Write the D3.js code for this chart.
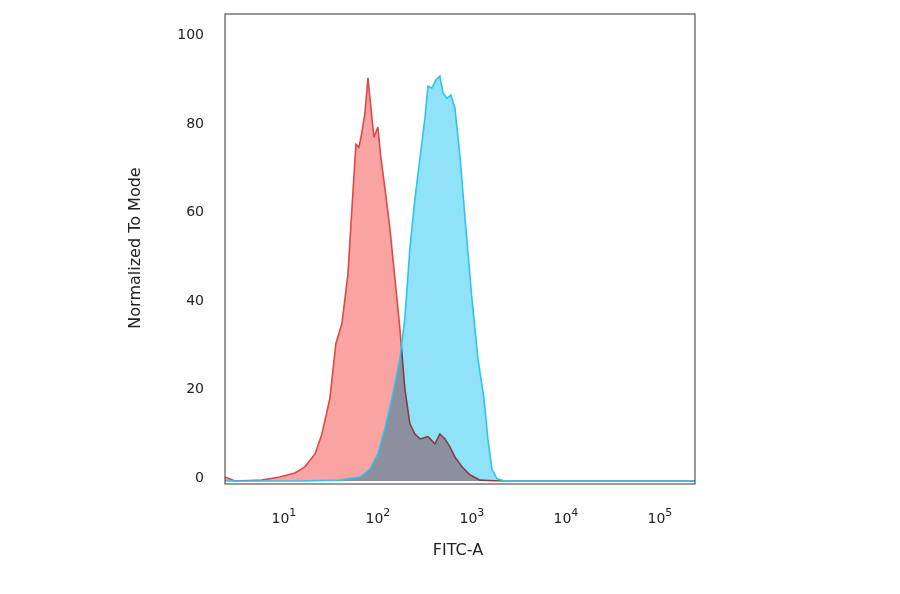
<!DOCTYPE html>
<html>
<head>
<meta charset="utf-8">
<script src="https://cdn.jsdelivr.net/npm/d3@7"></script>
<style>
body { margin: 0; background: #fff; }
text { font-family: "DejaVu Sans", sans-serif; fill: #222; }
</style>
</head>
<body>
<svg id="chart" width="900" height="594"></svg>
<script>
// FITC-A intensity and % of mode
const redX = [2.04, 2.6, 5.0, 7.8, 11.3, 14.4, 18.5, 21.9, 26.6, 30.8, 35.7, 41.4, 45.7, 50.4, 54.2, 58.3, 62.8, 67.6, 72.8, 78.3, 86.3, 92.9, 102.5, 115.8, 130.9, 147.9, 167, 189, 214, 242, 294, 349, 394, 446, 504, 569, 676, 822, 1050, 1714, 203700]
const redY = [0.9, 0, 0.2, 0.9, 1.8, 3.2, 6.1, 10.6, 18.6, 31.0, 35.5, 46.6, 61.5, 76.0, 75.3, 78.7, 83.0, 91.0, 84.2, 77.6, 79.9, 72.9, 66.1, 57.0, 45.7, 34.4, 20.8, 12.9, 10.6, 9.5, 10.0, 8.4, 10.6, 9.5, 7.7, 5.4, 3.2, 1.4, 0.2, 0, 0]
const blueX = [2.04, 12.8, 34, 55.6, 71, 86.3, 102.5, 121.6, 147.9, 167, 189, 214, 242, 273, 294, 324, 357, 394, 425, 468, 516, 569, 644, 745, 863, 1000, 1159, 1277, 1409, 1592, 1936, 203700]
const blueY = [0, 0, 0.2, 0.9, 2.7, 6.1, 11.8, 18.6, 27.6, 36.7, 52.5, 63.8, 72.9, 81.9, 89.1, 88.7, 90.5, 91.4, 87.6, 86.4, 87.1, 84.2, 73.3, 57.0, 41.2, 27.6, 18.6, 9.5, 2.7, 0.5, 0, 0]
const yTicks = [0, 20, 40, 60, 80, 100]
const xTicks = [1, 2, 3, 4, 5]

const svg = d3.select('#chart')
const m = {left: 225, right: 695, top: 14, bottom: 484}

const x = d3.scaleLog().domain([2.04, 203700]).range([m.left, m.right])
const y = d3.scaleLinear().domain([0, 100]).range([481, 38])

const area = d3.area().x(d => x(d[0])).y0(y(0)).y1(d => y(d[1]))
const line = d3.line().x(d => x(d[0])).y(d => y(d[1]))

const red = redX.map((v, i) => [v, redY[i]])
const blue = blueX.map((v, i) => [v, blueY[i]])

svg.append('path').datum(red).attr('d', area).attr('fill', '#f9a3a3')
svg.append('path').datum(red).attr('d', line)
	.attr('fill', 'none').attr('stroke', '#e04848').attr('stroke-width', 1.6)
svg.append('path').datum(blue).attr('d', area)
	.attr('fill', '#8fe2f8').style('mix-blend-mode', 'multiply')
svg.append('path').datum(blue).attr('d', line)
	.attr('fill', 'none').attr('stroke', '#2ec4ec').attr('stroke-width', 1.6)

svg.append('rect')
	.attr('x', m.left).attr('y', m.top)
	.attr('width', m.right - m.left).attr('height', m.bottom - m.top)
	.attr('fill', 'none').attr('stroke', '#555').attr('stroke-width', 1.2)

svg.selectAll('.ylab').data(yTicks).enter().append('text')
	.attr('class', 'ylab')
	.attr('x', 204).attr('y', d => y(d) + 1)
	.attr('text-anchor', 'end').attr('font-size', 14)
	.text(d => d)

const xl = svg.selectAll('.xlab').data(xTicks).enter().append('text')
	.attr('class', 'xlab')
	.attr('x', d => x(Math.pow(10, d)) - 6).attr('y', 523)
	.attr('text-anchor', 'middle').attr('font-size', 14)
xl.append('tspan').text('10')
xl.append('tspan').attr('dy', -7).attr('font-size', 11).text(d => d)

svg.append('text')
	.attr('x', 458).attr('y', 555)
	.attr('text-anchor', 'middle').attr('font-size', 16)
	.text('FITC-A')

svg.append('text')
	.attr('transform', 'translate(140,248) rotate(-90)')
	.attr('text-anchor', 'middle').attr('font-size', 16)
	.text('Normalized To Mode')
</script>
</body>
</html>
